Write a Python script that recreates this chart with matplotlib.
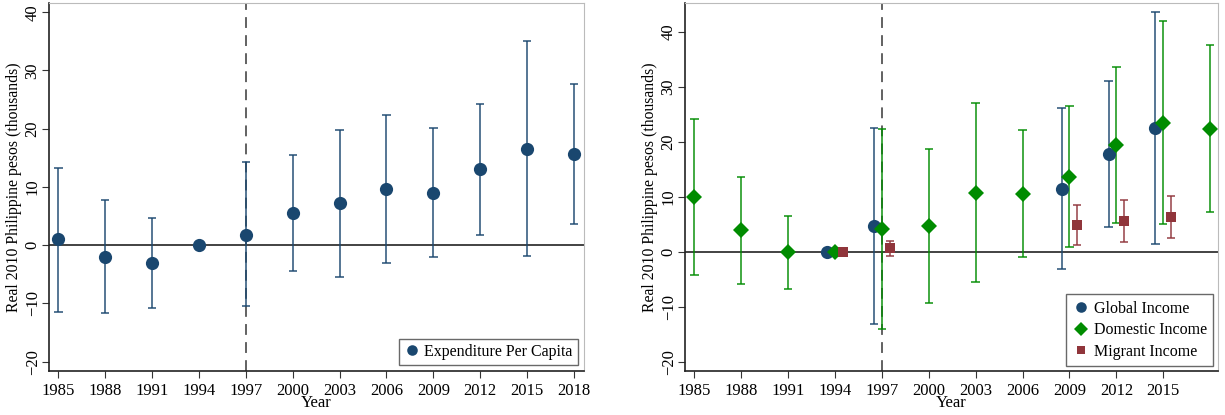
import matplotlib.pyplot as plt

plt.rcParams['font.family'] = ['Liberation Serif', 'DejaVu Serif']

# Left panel: expenditure per capita
years_l = [1985, 1988, 1991, 1994, 1997, 2000, 2003, 2006, 2009, 2012, 2015, 2018]
exp_pt = [1.0, -2.0, -3.1, 0.0, 1.8, 5.5, 7.2, 9.7, 9.0, 13.0, 16.6, 15.7]
exp_hi = [13.3, 7.7, 4.7, 0.0, 14.2, 15.5, 19.8, 22.4, 20.1, 24.2, 35.0, 27.7]
exp_lo = [-11.5, -11.7, -10.8, 0.0, -10.4, -4.4, -5.5, -3.0, -2.0, 1.8, -1.8, 3.6]

# Right panel: income components
years_g = [1994, 1997, 2009, 2012, 2015]
glob_pt = [0.0, 4.7, 11.4, 17.8, 22.5]
glob_hi = [0.0, 22.6, 26.1, 31.1, 43.6]
glob_lo = [0.0, -13.1, -3.2, 4.5, 1.5]

years_d = [1985, 1988, 1991, 1994, 1997, 2000, 2003, 2006, 2009, 2012, 2015, 2018]
dom_pt = [9.9, 3.9, -0.1, 0.0, 4.1, 4.7, 10.7, 10.6, 13.7, 19.4, 23.5, 22.3]
dom_hi = [24.2, 13.6, 6.5, 0.0, 22.3, 18.7, 27.0, 22.2, 26.5, 33.7, 42.0, 37.6]
dom_lo = [-4.2, -5.8, -6.7, 0.0, -14.0, -9.3, -5.5, -1.0, 0.9, 5.3, 5.0, 7.2]

years_m = [1994, 1997, 2009, 2012, 2015]
mig_pt = [0.0, 0.6, 4.9, 5.6, 6.4]
mig_hi = [0.0, 2.0, 8.6, 9.4, 10.1]
mig_lo = [0.0, -0.7, 1.3, 1.8, 2.6]

navy = '#1a476f'
green = '#008c00'
maroon = '#90353b'


def draw_ci(ax, x, pt, hi, lo, color, marker, ms, label):
    xs = [v for v, h, l in zip(x, hi, lo) if h != l]
    his = [h for h, l in zip(hi, lo) if h != l]
    los = [l for h, l in zip(hi, lo) if h != l]
    ax.vlines(xs, los, his, color=color, lw=1.3, alpha=0.8, zorder=2)
    for xi, h, l in zip(xs, his, los):
        ax.hlines([h, l], xi - 0.27, xi + 0.27, color=color, lw=1.3, alpha=0.8, zorder=2)
    ax.plot(x, pt, ls='none', marker=marker, ms=ms, color=color,
            markeredgewidth=0, label=label, zorder=3)


def style(ax, ylim, xlim, ticks):
    ax.set_xlim(*xlim)
    ax.set_ylim(*ylim)
    ax.set_xticks(ticks)
    ax.set_yticks(range(-20, 41, 10))
    for lab in ax.get_yticklabels():
        lab.set_rotation(90)
        lab.set_va('center')
    ax.tick_params(labelsize=12, length=5, color='#333333')
    ax.tick_params(axis='y', pad=1)
    ax.axhline(0, color='#222222', lw=1.2, zorder=1)
    ax.axvline(1997, color='#555555', lw=1.3, ls=(0, (6, 4)), zorder=1)
    ax.set_xlabel('Year', fontsize=12, labelpad=-3)
    ax.set_ylabel('Real 2010 Philippine pesos (thousands)', fontsize=11.3, labelpad=2)
    for s in ['top', 'right']:
        ax.spines[s].set_color('#bbbbbb')
    for s in ['left', 'bottom']:
        ax.spines[s].set_color('#222222')
        ax.spines[s].set_linewidth(1.2)


fig = plt.figure(figsize=(12.25, 4.15), dpi=100)
ax1 = fig.add_axes([0.040, 0.106, 0.4367, 0.887])
ax2 = fig.add_axes([0.5592, 0.106, 0.4350, 0.887])

draw_ci(ax1, years_l, exp_pt, exp_hi, exp_lo, navy, 'o', 9.5, 'Expenditure Per Capita')
style(ax1, (-21.6, 41.6), (1984.4, 2018.64), years_l)
leg1 = ax1.legend(loc='lower right', fontsize=11.5, fancybox=False, edgecolor='#444444',
                  handletextpad=0.3, handlelength=1.0, borderaxespad=0.4, borderpad=0.3,
                  markerscale=0.8)
leg1.get_frame().set_linewidth(1.0)

draw_ci(ax2, [y - 0.5 for y in years_g], glob_pt, glob_hi, glob_lo, navy, 'o', 9.5, 'Global Income')
draw_ci(ax2, years_d, dom_pt, dom_hi, dom_lo, green, 'D', 8.5, 'Domestic Income')
draw_ci(ax2, [y + 0.5 for y in years_m], mig_pt, mig_hi, mig_lo, maroon, 's', 7.5, 'Migrant Income')
style(ax2, (-21.7, 45.3), (1984.4, 2018.5), list(range(1985, 2016, 3)))
leg2 = ax2.legend(loc='lower right', fontsize=11.5, fancybox=False, edgecolor='#444444',
                  handletextpad=0.3, handlelength=1.0, borderaxespad=0.3, borderpad=0.4,
                  labelspacing=0.35, markerscale=0.8)
leg2.get_frame().set_linewidth(1.0)

fig.savefig('out.png', dpi=100)
